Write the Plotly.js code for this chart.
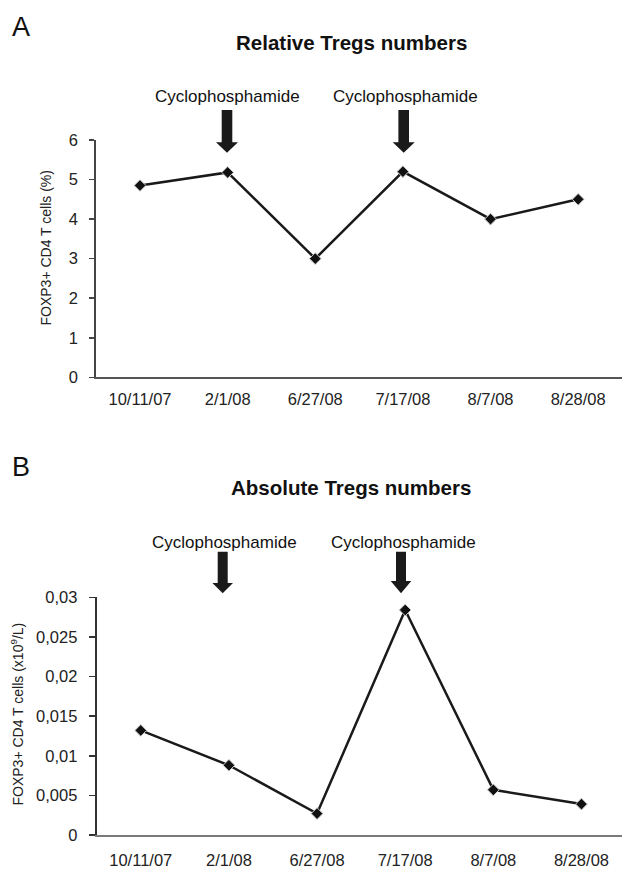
<!DOCTYPE html>
<html>
<head>
<meta charset="utf-8">
<script src="https://cdn.plot.ly/plotly-3.0.1.min.js"></script>
<style>html,body{margin:0;padding:0;background:#fff;}#chart{width:622px;height:870px;}</style>
</head>
<body>
<div id="chart"></div>
<script>
// ---- data ----
const dates = ["10/11/07", "2/1/08", "6/27/08", "7/17/08", "8/7/08", "8/28/08"];
const relativeTregs = [4.85, 5.18, 3.0, 5.2, 4.0, 4.5];
const absoluteTregs = [0.0132, 0.0088, 0.0027, 0.0284, 0.0057, 0.0039];
const relativeTicks = [0, 1, 2, 3, 4, 5, 6];
const absoluteTicks = [0, 0.005, 0.01, 0.015, 0.02, 0.025, 0.03];
const treatmentLabel = "Cyclophosphamide";

// ---- layout helpers ----
const W = 622, H = 870;
const px = x => x / W;
const py = y => 1 - y / H;
const FONT = "Liberation Sans, Arial, Helvetica, sans-serif";

function arrowPath(cx, top, headStart, tip, hw, hhw) {
  return "M" + px(cx - hw) + "," + py(top) +
    " L" + px(cx + hw) + "," + py(top) +
    " L" + px(cx + hw) + "," + py(headStart) +
    " L" + px(cx + hhw) + "," + py(headStart) +
    " L" + px(cx) + "," + py(tip) +
    " L" + px(cx - hhw) + "," + py(headStart) +
    " L" + px(cx - hw) + "," + py(headStart) + " Z";
}

const markerStyle = {symbol: "diamond", size: 9, color: "#111", line: {color: "#c8c8c8", width: 1}};
const lineStyle = {color: "#1a1a1a", width: 2.5};

const traces = [
  {x: dates, y: relativeTregs, type: "scatter", mode: "lines+markers", xaxis: "x", yaxis: "y",
   line: lineStyle, marker: markerStyle, hoverinfo: "skip"},
  {x: dates, y: absoluteTregs, type: "scatter", mode: "lines+markers", xaxis: "x2", yaxis: "y2",
   line: lineStyle, marker: markerStyle, hoverinfo: "skip"}
];

const tickFont = {family: FONT, size: 16.5, color: "#222"};

const layout = {
  width: W, height: H,
  margin: {l: 0, r: 0, t: 0, b: 0},
  paper_bgcolor: "#fff", plot_bgcolor: "#fff",
  showlegend: false,
  separators: ", ",
  font: {family: FONT, color: "#222"},
  xaxis: {
    domain: [px(96.2), 1], type: "category", range: [-0.5, 5.5],
    showgrid: false, zeroline: false, showline: true, linecolor: "#555", linewidth: 2,
    ticks: "", tickfont: tickFont, ticklabelstandoff: 6, anchor: "y", fixedrange: true
  },
  yaxis: {
    domain: [py(377.3), py(140)], range: [0, 6], tickvals: relativeTicks,
    showgrid: false, zeroline: false, showline: true, linecolor: "#444", linewidth: 2,
    ticks: "outside", ticklen: 5, tickwidth: 1.5, tickcolor: "#444",
    tickfont: tickFont, ticklabelstandoff: 8, anchor: "x", fixedrange: true
  },
  xaxis2: {
    domain: [px(96.7), 1], type: "category", range: [-0.5, 5.46],
    showgrid: false, zeroline: false, showline: true, linecolor: "#7a7a7a", linewidth: 2,
    ticks: "", tickfont: tickFont, ticklabelstandoff: 9, anchor: "y2", fixedrange: true
  },
  yaxis2: {
    domain: [py(835), py(597.3)], range: [0, 0.03], tickvals: absoluteTicks,
    ticktext: absoluteTicks.map(v => String(v).replace(".", ",")),
    showgrid: false, zeroline: false, showline: true, linecolor: "#333", linewidth: 2,
    ticks: "outside", ticklen: 6, tickwidth: 1.5, tickcolor: "#333",
    tickfont: tickFont, ticklabelstandoff: 8, anchor: "x2", fixedrange: true
  },
  annotations: [
    {text: "A", xref: "paper", yref: "paper", x: px(21), y: py(27), showarrow: false,
     font: {family: FONT, size: 27, color: "#111"}, xanchor: "center", yanchor: "middle"},
    {text: "B", xref: "paper", yref: "paper", x: px(21), y: py(467), showarrow: false,
     font: {family: FONT, size: 27, color: "#111"}, xanchor: "center", yanchor: "middle"},
    {text: "<b>Relative Tregs numbers</b>", xref: "paper", yref: "paper", x: px(351.5), y: py(43), showarrow: false,
     font: {family: FONT, size: 20.5, color: "#111"}, xanchor: "center", yanchor: "middle"},
    {text: "<b>Absolute Tregs numbers</b>", xref: "paper", yref: "paper", x: px(350.5), y: py(487), showarrow: false,
     font: {family: FONT, size: 20.5, color: "#111"}, xanchor: "center", yanchor: "middle"},
    {text: treatmentLabel, xref: "paper", yref: "paper", x: px(227), y: py(97), showarrow: false,
     font: {family: FONT, size: 17, color: "#111"}, xanchor: "center", yanchor: "middle"},
    {text: treatmentLabel, xref: "paper", yref: "paper", x: px(405), y: py(97), showarrow: false,
     font: {family: FONT, size: 17, color: "#111"}, xanchor: "center", yanchor: "middle"},
    {text: treatmentLabel, xref: "paper", yref: "paper", x: px(224), y: py(542), showarrow: false,
     font: {family: FONT, size: 17, color: "#111"}, xanchor: "center", yanchor: "middle"},
    {text: treatmentLabel, xref: "paper", yref: "paper", x: px(403), y: py(542), showarrow: false,
     font: {family: FONT, size: 17, color: "#111"}, xanchor: "center", yanchor: "middle"},
    {text: "FOXP3+ CD4 T cells (%)", xref: "paper", yref: "paper", x: px(45), y: py(248.5), showarrow: false,
     textangle: -90, font: {family: FONT, size: 14, color: "#222"}, xanchor: "center", yanchor: "middle"},
    {text: "FOXP3+ CD4 T cells (x10<sup>9</sup>/L)", xref: "paper", yref: "paper", x: px(17.5), y: py(714), showarrow: false,
     textangle: -90, font: {family: FONT, size: 14, color: "#222"}, xanchor: "center", yanchor: "middle"}
  ],
  shapes: [
    {type: "path", xref: "paper", yref: "paper", path: arrowPath(227, 110, 142.3, 152.7, 5.3, 11), fillcolor: "#1a1a1a", line: {width: 0}},
    {type: "path", xref: "paper", yref: "paper", path: arrowPath(403.7, 110, 142.3, 152.7, 5.3, 11), fillcolor: "#1a1a1a", line: {width: 0}},
    {type: "path", xref: "paper", yref: "paper", path: arrowPath(222.7, 551.7, 583, 593.3, 5, 10.3), fillcolor: "#1a1a1a", line: {width: 0}},
    {type: "path", xref: "paper", yref: "paper", path: arrowPath(401, 551.7, 581, 593.3, 5, 10.3), fillcolor: "#1a1a1a", line: {width: 0}}
  ]
};

Plotly.newPlot("chart", traces, layout, {staticPlot: true, displayModeBar: false});
</script>
</body>
</html>
